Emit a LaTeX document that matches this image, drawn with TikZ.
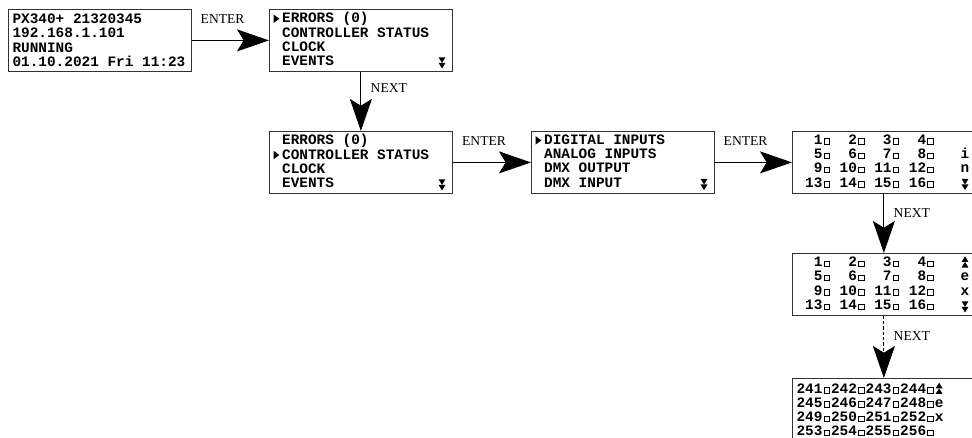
\documentclass[tikz,border=0pt]{standalone}
\usepackage{fontspec}
\newfontfamily\lcdfont{Liberation Mono}
\newfontfamily\labelfont{Liberation Serif}
\usetikzlibrary{arrows.meta}
% Zeichen der Anzeige
\newcommand{\selmark}{\makebox[0.6em][l]{\tikz[baseline=0pt]\fill (-0.6pt,-0.2pt) -- (3.8pt,3pt) -- (-0.6pt,6.2pt) -- cycle;}}
\newcommand{\cell}{\makebox[0.6em]{\tikz[baseline=0pt]\draw[line width=0.45pt] (0,0.2pt) rectangle (4.2pt,4.2pt);}}
\newcommand{\scrolldn}{\makebox[0.6em]{\tikz[baseline=0pt]{\fill (0,6.2pt) -- (5.2pt,6.2pt) -- (2.6pt,2pt) -- cycle; \fill (0,2pt) -- (5.2pt,2pt) -- (2.6pt,-2.2pt) -- cycle;}}}
\newcommand{\scrollup}{\makebox[0.6em]{\tikz[baseline=0pt]{\fill (0,-0.6pt) -- (5.2pt,-0.6pt) -- (2.6pt,3.6pt) -- cycle; \fill (0,3.6pt) -- (5.2pt,3.6pt) -- (2.6pt,7.8pt) -- cycle;}}}
\begin{document}
\begin{tikzpicture}[x=0.75pt, y=-0.75pt,
				lcd/.style={draw=black!80, line width=0.6pt, anchor=north west, text width=131pt, inner xsep=3.1pt, inner ysep=0pt, minimum height=46.5pt, align=left, font=\lcdfont\bfseries\fontsize{10.8pt}{10.7pt}\selectfont, execute at begin node={\spaceskip=6.48pt\xspaceskip=6.48pt}},
				flow/.style={line width=0.75pt, -{Stealth[length=24pt, width=16.5pt, inset=5pt]}},   %Pfeilspitzen
				lbl/.style={font=\labelfont\fontsize{10.2pt}{12pt}\selectfont, inner sep=0pt}]
				\useasboundingbox (0,0) rectangle (972,438);
				\clip (0,0) rectangle (972,438);
				% Anzeigen zeichnen
				\node[lcd] (status) at (8,9) {PX340+ 21320345\\192.168.1.101\\RUNNING\\01.10.2021 Fri 11:23};
				\node[lcd] (menua) at (269,9) {\selmark ERRORS~(0)\\~CONTROLLER~STATUS\\~CLOCK\\~EVENTS~~~~~~~~~~~~\scrolldn};
				\node[lcd] (menub) at (269,131) {~ERRORS~(0)\\\selmark CONTROLLER~STATUS\\~CLOCK\\~EVENTS~~~~~~~~~~~~\scrolldn};
				\node[lcd] (inputs) at (531,131) {\selmark DIGITAL~INPUTS\\~ANALOG~INPUTS\\~DMX~OUTPUT\\~DMX~INPUT~~~~~~~~~\scrolldn};
				\node[lcd] (dina) at (792,131) {~~1\cell~~2\cell~~3\cell~~4\cell\\~~5\cell~~6\cell~~7\cell~~8\cell~~~i\\~~9\cell~10\cell~11\cell~12\cell~~~n\\~13\cell~14\cell~15\cell~16\cell~~~\scrolldn};
				\node[lcd] (dinb) at (792,253) {~~1\cell~~2\cell~~3\cell~~4\cell~~~\scrollup\\~~5\cell~~6\cell~~7\cell~~8\cell~~~e\\~~9\cell~10\cell~11\cell~12\cell~~~x\\~13\cell~14\cell~15\cell~16\cell~~~\scrolldn};
				\node[lcd] (dinc) at (792,378) {241\cell 242\cell 243\cell 244\cell\scrollup\\245\cell 246\cell 247\cell 248\cell e\\249\cell 250\cell 251\cell 252\cell x\\253\cell 254\cell 255\cell 256\cell};
				% Pfeile zeichnen
				\draw[flow] (status.east) -- (menua.west) node[lbl, pos=0.4, above=12pt] {ENTER};
				\draw[flow] (menua.south) -- (menub.north) node[lbl, pos=0.28, right=7pt] {NEXT};
				\draw[flow] (menub.east) -- (inputs.west) node[lbl, pos=0.4, above=12pt] {ENTER};
				\draw[flow] (inputs.east) -- (dina.west) node[lbl, pos=0.4, above=12pt] {ENTER};
				\draw[flow] (dina.south) -- (dinb.north) node[lbl, pos=0.32, right=7pt] {NEXT};
				\draw[flow, dash pattern=on 2.5pt off 1.5pt] (dinb.south) -- (dinc.north) node[lbl, pos=0.32, right=7pt] {NEXT};
\end{tikzpicture}
\end{document}
